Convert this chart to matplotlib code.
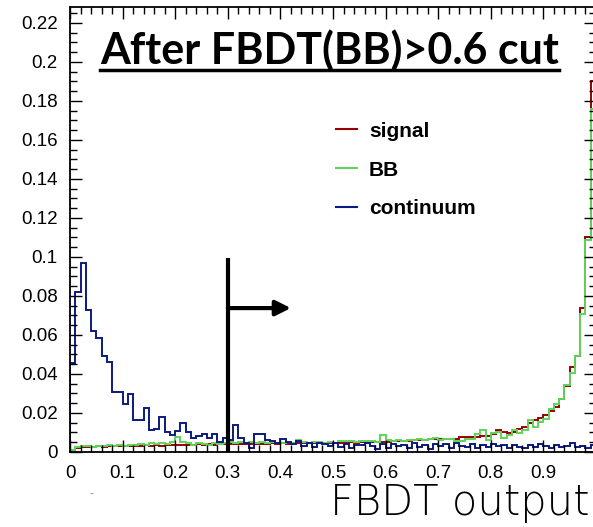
import numpy as np
import matplotlib
matplotlib.use("Agg")
import matplotlib.pyplot as plt
from matplotlib.lines import Line2D
from matplotlib.ticker import MultipleLocator

# ---------------- data (100 bins, 0..1) ----------------
bin_edges = np.linspace(0.0, 1.0, 101)

signal = [
    0.0008, 0.0018, 0.0024, 0.0027, 0.0026, 0.0029, 0.0028, 0.0030, 0.0031, 0.0029,
    0.0032, 0.0030, 0.0033, 0.0031, 0.0034, 0.0032, 0.0035, 0.0033, 0.0036, 0.0034,
    0.0037, 0.0035, 0.0038, 0.0036, 0.0039, 0.0037, 0.0040, 0.0038, 0.0041, 0.0039,
    0.0040, 0.0042, 0.0041, 0.0043, 0.0040, 0.0042, 0.0043, 0.0041, 0.0044, 0.0042,
    0.0044, 0.0043, 0.0045, 0.0044, 0.0046, 0.0045, 0.0044, 0.0047, 0.0045, 0.0047,
    0.0046, 0.0048, 0.0047, 0.0049, 0.0048, 0.0050, 0.0049, 0.0051, 0.0050, 0.0052,
    0.0053, 0.0055, 0.0054, 0.0057, 0.0058, 0.0060, 0.0061, 0.0063, 0.0065, 0.0068,
    0.0068, 0.0067, 0.0067, 0.0067, 0.0075, 0.0075, 0.0078, 0.0078, 0.0082, 0.0082,
    0.0090, 0.0113, 0.0104, 0.0096, 0.0104, 0.0116, 0.0130, 0.0147, 0.0164, 0.0173,
    0.0192, 0.0210, 0.0230, 0.0270, 0.0340, 0.0438, 0.0490, 0.0737, 0.1100, 0.1904,
]

bb = [
    0.0010, 0.0024, 0.0030, 0.0032, 0.0028, 0.0033, 0.0030, 0.0035, 0.0031, 0.0036,
    0.0033, 0.0038, 0.0034, 0.0040, 0.0035, 0.0046, 0.0039, 0.0048, 0.0042, 0.0052,
    0.0075, 0.0050, 0.0045, 0.0038, 0.0047, 0.0042, 0.0036, 0.0048, 0.0041, 0.0045,
    0.0050, 0.0046, 0.0049, 0.0044, 0.0052, 0.0046, 0.0050, 0.0044, 0.0052, 0.0048,
    0.0045, 0.0051, 0.0046, 0.0062, 0.0050, 0.0047, 0.0052, 0.0049, 0.0046, 0.0051,
    0.0048, 0.0054, 0.0056, 0.0055, 0.0051, 0.0056, 0.0054, 0.0058, 0.0052, 0.0087,
    0.0060, 0.0055, 0.0062, 0.0058, 0.0064, 0.0061, 0.0066, 0.0062, 0.0068, 0.0070,
    0.0064, 0.0068, 0.0067, 0.0058, 0.0058, 0.0065, 0.0068, 0.0090, 0.0113, 0.0061,
    0.0096, 0.0100, 0.0070, 0.0087, 0.0113, 0.0096, 0.0113, 0.0164, 0.0130, 0.0156,
    0.0170, 0.0220, 0.0247, 0.0270, 0.0345, 0.0403, 0.0490, 0.0706, 0.1087, 0.1760,
]

continuum = [
    0.0458, 0.0820, 0.0968, 0.0728, 0.0620, 0.0586, 0.0492, 0.0463, 0.0309, 0.0309,
    0.0246, 0.0296, 0.0164, 0.0164, 0.0227, 0.0113, 0.0116, 0.0178, 0.0104, 0.0087,
    0.0108, 0.0147, 0.0104, 0.0070, 0.0082, 0.0090, 0.0070, 0.0090, 0.0050, 0.0070,
    0.0060, 0.0138, 0.0070, 0.0044, 0.0019, 0.0090, 0.0090, 0.0062, 0.0058, 0.0045,
    0.0068, 0.0050, 0.0042, 0.0055, 0.0032, 0.0048, 0.0025, 0.0044, 0.0040, 0.0030,
    0.0045, 0.0028, 0.0040, 0.0022, 0.0038, 0.0035, 0.0045, 0.0030, 0.0014, 0.0040,
    0.0020, 0.0042, 0.0030, 0.0035, 0.0020, 0.0045, 0.0028, 0.0038, 0.0015, 0.0042,
    0.0030, 0.0040, 0.0022, 0.0045, 0.0030, 0.0025, 0.0040, 0.0020, 0.0038, 0.0025,
    0.0042, 0.0030, 0.0035, 0.0020, 0.0038, 0.0028, 0.0018, 0.0035, 0.0025, 0.0040,
    0.0030, 0.0022, 0.0035, 0.0025, 0.0032, 0.0045, 0.0028, 0.0030, 0.0022, 0.0035,
]

series_labels = ["signal", "BB", "continuum"]
series_colors = ["#990000", "#5fd35a", "#0c1a80"]

xtick_labels = ["0", "0.1", "0.2", "0.3", "0.4", "0.5", "0.6", "0.7", "0.8", "0.9"]
ytick_labels = ["0", "0.02", "0.04", "0.06", "0.08", "0.1", "0.12", "0.14",
                "0.16", "0.18", "0.2", "0.22"]

cut_value = 0.3
title_text = "After FBDT(BB)>0.6 cut"
xlabel_text = "FBDT output"

# ---------------- figure ----------------
W, H, DPI = 593, 527, 100
fig = plt.figure(figsize=(W / DPI, H / DPI), dpi=DPI)
ax = fig.add_axes([70 / W, (H - 452) / H, (596 - 70) / W, (452 - 7) / H])

for vals, col, lab in zip([signal, bb, continuum], series_colors, series_labels):
    ax.stairs(vals, bin_edges, color=col, lw=1.4, label=lab)

ax.set_xlim(0, 1)
ax.set_ylim(0, 0.2282)

ax.set_xticks(np.arange(len(xtick_labels)) * 0.1)
ax.set_xticklabels(xtick_labels, family="Liberation Sans")
ax.set_yticks(np.arange(len(ytick_labels)) * 0.02)
ax.set_yticklabels(ytick_labels, family="Liberation Sans")
ax.xaxis.set_minor_locator(MultipleLocator(0.02))
ax.yaxis.set_minor_locator(MultipleLocator(0.005))
ax.tick_params(which="both", direction="in", top=True, right=True, width=1.0, color="black")
ax.tick_params(which="major", length=8.5, labelsize=13.5, pad=9)
ax.tick_params(which="minor", length=5)

for s in ax.spines.values():
    s.set_linewidth(1.3)

# cut line and arrow
ax.plot([cut_value, cut_value], [0, 0.0995], color="black", lw=3, solid_capstyle="butt")
ax.annotate("", xy=(0.42, 0.0738), xytext=(cut_value, 0.0738),
            arrowprops=dict(arrowstyle="-|>,head_length=0.9,head_width=0.45",
                            color="black", lw=3, shrinkA=0, shrinkB=0))

# legend
leg = ax.legend(loc="upper left", bbox_to_anchor=((317 - 70) / 526, (452 - 103) / 445),
                frameon=False, handlelength=1.0, handletextpad=0.6, labelspacing=0.95,
                prop=dict(family="Liberation Sans", weight="bold", size=15))
for h in leg.legend_handles:
    h.set_linewidth(1.5)

# title with underline
t = fig.text(100 / W, (H - 64) / H, title_text, fontsize=31, weight="bold",
             family="Lato", ha="left", va="baseline")
fig.canvas.draw()
bb_t = t.get_window_extent()
fig.add_artist(Line2D([bb_t.x0 / W, bb_t.x1 / W], [(H - 70) / H, (H - 70) / H],
                      transform=fig.transFigure, color="black", lw=2.5))

# small mark below the axis
fig.text(91 / W, (H - 493) / H, "-", fontsize=8, color="#888888", ha="center", va="center")

# x label
fig.text(590 / W, (H - 515) / H, xlabel_text, fontsize=30, family="DejaVu Sans",
         weight="light", ha="right", va="baseline")

fig.savefig("out.png", dpi=DPI)
